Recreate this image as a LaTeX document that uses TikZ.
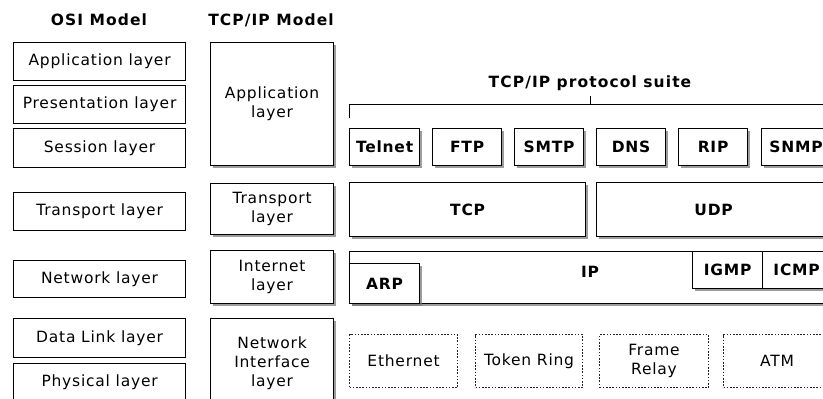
\documentclass[tikz,border=0pt]{standalone}
\usepackage{fontspec}
\setmainfont{DejaVu Sans}[LetterSpace=5]
\newfontfamily\ttlfont{DejaVu Sans}[LetterSpace=7]
\usetikzlibrary{shadows}
\tikzset{
  box/.style={draw=black, line width=1.2pt, fill=white, inner sep=0pt, anchor=north west,
    align=center, font=\fontsize{15.5}{19}\selectfont},
  sbox/.style={box, drop shadow={shadow xshift=2.5pt, shadow yshift=-2.5pt, fill=black!55, opacity=0.7}},
  pbox/.style={sbox, font=\fontsize{15.5}{19}\selectfont\bfseries},
  dbox/.style={box, draw=black!85, line width=1.1pt, dash pattern=on 1.6pt off 1.6pt},
  ttl/.style={font=\ttlfont\fontsize{15.5}{18}\selectfont\bfseries, inner sep=0pt},
  brk/.style={draw=black, line width=1pt}
}
\begin{document}
\begin{tikzpicture}[x=1pt,y=-1pt]
\useasboundingbox (0,0) rectangle (823,399);
\clip (0,0) rectangle (823,399);
% titles
\node[ttl] (osit) at (99,20) {OSI Model};
\node[ttl] (tcpt) at (271,20) {TCP/IP Model};
\node[ttl] (suite) at (590,83) {TCP/IP protocol suite};
% OSI column
\node[box, minimum width=172pt, minimum height=38pt] (oapp) at (13,42) {Application layer};
\node[box, minimum width=172pt, minimum height=38pt] (opres) at (13,85) {Presentation layer};
\node[box, minimum width=172pt, minimum height=39pt] (osess) at (13,128) {Session layer};
\node[box, minimum width=172pt, minimum height=38pt] (otrans) at (13,192) {Transport layer};
\node[box, minimum width=172pt, minimum height=37pt] (onet) at (13,260) {Network layer};
\node[box, minimum width=172pt, minimum height=39pt] (odl) at (13,318) {Data Link layer};
\node[box, minimum width=172pt, minimum height=38pt] (ophys) at (13,363) {Physical layer};
% TCP/IP model column
\node[sbox, minimum width=123pt, minimum height=123pt] (tapp) at (210,42) {Application\\layer};
\node[sbox, minimum width=123pt, minimum height=51pt] (ttrans) at (210,183) {Transport\\layer};
\node[sbox, minimum width=123pt, minimum height=53pt] (tint) at (210,250) {Internet\\layer};
\node[sbox, minimum width=123pt, minimum height=90pt] (tnet) at (210,318) {Network\\Interface\\layer};
% bracket
\coordinate (bl) at (349,104);
\coordinate (blt) at (349,118);
\coordinate (br) at (830,104);
\coordinate (bc) at (590,104);
\coordinate (bct) at (590,96);
\draw[brk] (blt) -- (bl) -- (br);
\draw[brk] (bc) -- (bct);
% application protocols
\node[pbox, minimum width=70pt, minimum height=37pt] (telnet) at (349,128) {Telnet};
\node[pbox, minimum width=69pt, minimum height=37pt] (ftp) at (432,128) {FTP};
\node[pbox, minimum width=69pt, minimum height=37pt] (smtp) at (514,128) {SMTP};
\node[pbox, minimum width=69pt, minimum height=37pt] (dns) at (596,128) {DNS};
\node[pbox, minimum width=69pt, minimum height=37pt] (rip) at (678,128) {RIP};
\node[pbox, minimum width=69pt, minimum height=37pt] (snmp) at (761,128) {SNMP};
% transport
\node[pbox, minimum width=236pt, minimum height=54pt] (tcp) at (349,182) {TCP};
\node[pbox, minimum width=234pt, minimum height=54pt] (udp) at (596,182) {UDP};
% internet
\node[sbox, minimum width=481pt, minimum height=52pt] (ip) at (349,251) {};
\node[font=\fontsize{15.5}{18}\selectfont\bfseries, inner sep=0pt] (iptxt) at (590,272) {IP};
\node[pbox, minimum width=70pt, minimum height=40pt] (arp) at (349,263) {ARP};
\node[pbox, minimum width=70pt, minimum height=37pt] (igmp) at (692,251) {IGMP};
\node[pbox, minimum width=68pt, minimum height=37pt] (icmp) at (762,251) {ICMP};
% network interface
\node[dbox, minimum width=108pt, minimum height=53pt] (eth) at (349,334) {Ethernet};
\node[dbox, minimum width=107pt, minimum height=53pt] (tok) at (475,334) {Token Ring};
\node[dbox, minimum width=109pt, minimum height=53pt] (fr) at (599,334) {Frame\\Relay};
\node[dbox, minimum width=107pt, minimum height=53pt] (atm) at (723,334) {ATM};
\end{tikzpicture}
\end{document}
